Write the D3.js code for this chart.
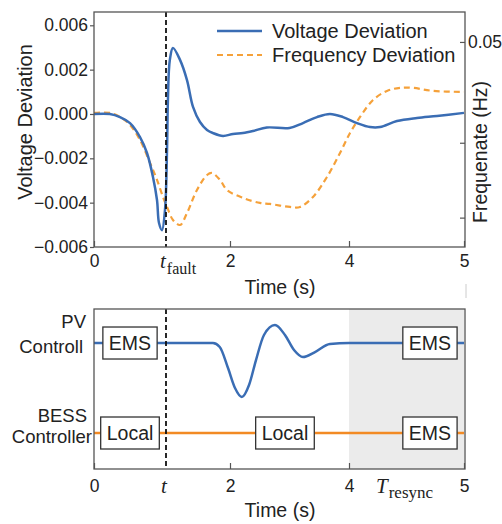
<!DOCTYPE html>
<html>
<head>
<meta charset="utf-8">
<script src="https://cdn.jsdelivr.net/npm/d3@7"></script>
<style>
  body { margin: 0; background: #fff; }
  text { font-family: "Liberation Sans", Arial, sans-serif; fill: #222; }
  .serif { font-family: "Liberation Serif", "DejaVu Serif", serif; }
</style>
</head>
<body>
<div id="chart"></div>
<script>
// Voltage deviation (left axis)
const timeV = [0, 0.22, 0.361, 0.5, 0.639, 0.736, 0.819, 0.875, 0.903, 0.944, 0.986, 1.016, 1.03, 1.06,
  1.109, 1.219, 1.328, 1.422, 1.531, 1.641, 1.734, 1.891, 2.05, 2.218, 2.386, 2.62, 3.0, 3.227,
  3.462, 3.68, 3.9, 4.07, 4.183, 4.27, 4.417, 4.591, 4.765, 5.0];
const voltage = [0, 0, -0.00014, -0.00041, -0.00104, -0.00176, -0.00284, -0.00388, -0.00492, -0.00524,
  -0.00433, -0.00163, 0.00063, 0.00244, 0.00298, 0.00244, 0.00153, 0.00032, -0.00036, -0.00072,
  -0.00086, -0.00099, -0.0009, -0.00086, -0.00077, -0.00061, -0.00063, -0.00041, -0.00014, 0,
  -0.00014, -0.00041, -0.00059, -0.00059, -0.00032, -0.00018, -0.00009, 0.00005];

// Frequency deviation (right axis)
const timeF = [0, 0.22, 0.361, 0.5, 0.639, 0.778, 0.875, 0.958, 1.016, 1.109, 1.219, 1.328, 1.484,
  1.641, 1.719, 1.844, 1.953, 2.218, 2.504, 2.672, 3.008, 3.176, 3.395, 3.63, 3.849, 4.009, 4.096,
  4.209, 4.33, 4.443, 4.557, 4.73, 5.0];
const freq = [0.0007, 0.0007, -0.0021, -0.0076, -0.0181, -0.034, -0.0458, -0.0576, -0.0646, -0.0736,
  -0.0771, -0.0688, -0.0528, -0.0424, -0.041, -0.0458, -0.0528, -0.0583, -0.0618, -0.0625, -0.0646,
  -0.0646, -0.0576, -0.0438, -0.0271, -0.0132, -0.0021, 0.0097, 0.016, 0.0181, 0.0181, 0.016, 0.0153];

// Controller signals (bottom panel)
const timePV = [0, 1, 1.734, 1.84, 1.969, 2.084, 2.2, 2.32, 2.437, 2.571, 2.756, 2.924, 3.076, 3.227,
  3.429, 3.68, 4.0, 5.0];
const pvSignal = [1, 1, 1, 0.956, 0.722, 0.5, 0.4, 0.533, 0.811, 1.089, 1.2, 1.089, 0.922, 0.844,
  0.9, 0.99, 1, 1];
const timeBESS = [0, 5];
const bessSignal = [0, 0];

const pvBoxT = [0.5, 4.704];
const pvBoxLabels = ["EMS", "EMS"];
const bessBoxT = [0.5, 2.924, 4.704];
const bessBoxLabels = ["Local", "Local", "EMS"];

const tFault = 1;
const tResync = [4, 5];

const xTicks = [0, 2, 4, 5];
const xTickLabels = ["0", "2", "4", "5"];
const vTicks = [-0.006, -0.004, -0.002, 0, 0.002, 0.004];
const vTickLabels = ["\u22120.006", "\u22120.004", "\u22120.002", "0.000", "0.002", "0.006"];
const fTicks = [0.05, -0.02, -0.072];
const fTickLabels = ["0.05", "", ""];

const blue = "#3a6db4", orange = "#f5a13a", orange2 = "#f28a24", frame = "#555";

const svg = d3.select("#chart").append("svg")
  .attr("width", 502).attr("height", 524);

// scales (time axis in the picture is not uniform)
const x = d3.scaleLinear().domain([0, 1, 2, 4, 5]).range([94, 166, 230, 349, 464]);
const yV = d3.scaleLinear().domain([-0.006, 0.0046]).range([247, 12]);
const yF = d3.scaleLinear().domain([-0.0924, 0.0708]).range([247, 12]);
const yS = d3.scaleLinear().domain([-0.4, 1.378]).range([469, 309]);

const upper = {t: 12, b: 247}, lower = {t: 309, b: 469};

function styleAxis(g, size) {
  g.select(".domain").remove();
  g.selectAll(".tick line").attr("stroke", frame).attr("stroke-width", 1.2);
  g.selectAll(".tick text").style("font-size", size + "px").attr("fill", "#222");
}

// ---------- top panel ----------
svg.append("g").attr("transform", `translate(0,${upper.b})`)
  .call(d3.axisBottom(x).tickValues(xTicks).tickFormat((d, i) => xTickLabels[i]).tickSize(-6).tickPadding(8))
  .call(g => styleAxis(g, 17.5));

svg.append("g").attr("transform", "translate(94,0)")
  .call(d3.axisLeft(yV).tickValues(vTicks).tickFormat((d, i) => vTickLabels[i]).tickSize(4).tickPadding(2))
  .call(g => styleAxis(g, 17.5));

svg.append("g").attr("transform", "translate(465,0)")
  .call(d3.axisRight(yF).tickValues(fTicks).tickFormat((d, i) => fTickLabels[i]).tickSize(-5).tickPadding(3))
  .call(g => styleAxis(g, 17.5));

const lineV = d3.line().x((d, i) => x(timeV[i])).y(d => yV(d)).curve(d3.curveCatmullRom.alpha(0.5));
const lineF = d3.line().x((d, i) => x(timeF[i])).y(d => yF(d)).curve(d3.curveCatmullRom.alpha(0.5));

svg.append("path").datum(freq).attr("d", lineF)
  .attr("fill", "none").attr("stroke", orange).attr("stroke-width", 2.2).attr("stroke-dasharray", "6,4");
svg.append("path").datum(voltage).attr("d", lineV)
  .attr("fill", "none").attr("stroke", blue).attr("stroke-width", 2.5);

svg.append("line")
  .attr("x1", x(tFault)).attr("x2", x(tFault)).attr("y1", upper.t).attr("y2", upper.b)
  .attr("stroke", "#111").attr("stroke-width", 1.8).attr("stroke-dasharray", "5,3");

svg.append("rect").attr("x", 94).attr("y", upper.t).attr("width", 371).attr("height", upper.b - upper.t)
  .attr("fill", "none").attr("stroke", frame).attr("stroke-width", 1.3);

// legend
const legend = svg.append("g");
legend.append("line").attr("x1", 217).attr("x2", 262).attr("y1", 31).attr("y2", 31)
  .attr("stroke", blue).attr("stroke-width", 2.5);
legend.append("line").attr("x1", 217).attr("x2", 262).attr("y1", 55).attr("y2", 55)
  .attr("stroke", orange).attr("stroke-width", 2.2).attr("stroke-dasharray", "6,4");
legend.append("text").attr("x", 272).attr("y", 38).style("font-size", "20px").text("Voltage Deviation");
legend.append("text").attr("x", 272).attr("y", 62).style("font-size", "20px").text("Frequency Deviation");

// axis titles
svg.append("text").attr("transform", "translate(32,122) rotate(-90)")
  .attr("text-anchor", "middle").style("font-size", "20px").text("Voltage Deviation");
svg.append("text").attr("transform", "translate(487,152) rotate(-90)")
  .attr("text-anchor", "middle").style("font-size", "19.5px").text("Frequenate (Hz)");
svg.append("text").attr("x", 280).attr("y", 294)
  .attr("text-anchor", "middle").style("font-size", "19.5px").text("Time (s)");

const tf = svg.append("text").attr("class", "serif").attr("x", x(tFault) - 6).attr("y", 268);
tf.append("tspan").style("font-style", "italic").style("font-size", "21px").text("t");
tf.append("tspan").attr("dy", 6).attr("dx", 1).style("font-size", "16px").text("fault");

svg.append("line").attr("x1", 466).attr("x2", 466).attr("y1", 284).attr("y2", 298)
  .attr("stroke", "#ccc").attr("stroke-width", 1);

// ---------- bottom panel ----------
svg.append("rect")
  .attr("x", x(tResync[0])).attr("y", lower.t)
  .attr("width", x(tResync[1]) - x(tResync[0])).attr("height", lower.b - lower.t)
  .attr("fill", "#ebebeb");

svg.append("g").attr("transform", `translate(0,${lower.b})`)
  .call(d3.axisBottom(x).tickValues(xTicks).tickFormat((d, i) => xTickLabels[i]).tickSize(-6).tickPadding(11))
  .call(g => styleAxis(g, 17.5));

const lineS = d3.line().curve(d3.curveMonotoneX);
svg.append("path")
  .datum(pvSignal.map((d, i) => [x(timePV[i]), yS(d)]))
  .attr("d", lineS).attr("fill", "none").attr("stroke", blue).attr("stroke-width", 2.5);
svg.append("path")
  .datum(bessSignal.map((d, i) => [x(timeBESS[i]), yS(d)]))
  .attr("d", lineS).attr("fill", "none").attr("stroke", orange2).attr("stroke-width", 2.5);

svg.append("line")
  .attr("x1", x(tFault)).attr("x2", x(tFault)).attr("y1", lower.t).attr("y2", lower.b)
  .attr("stroke", "#111").attr("stroke-width", 1.8).attr("stroke-dasharray", "5,3");

function drawBoxes(ts, labels, level) {
  ts.forEach((t, i) => {
    const g = svg.append("g");
    const txt = g.append("text").attr("x", x(t)).attr("y", yS(level) + 7)
      .attr("text-anchor", "middle").style("font-size", "19.5px").text(labels[i]);
    const w = txt.node().getComputedTextLength() + 12;
    g.insert("rect", "text")
      .attr("x", x(t) - w / 2).attr("y", yS(level) - 16).attr("width", w).attr("height", 32)
      .attr("fill", "#fff").attr("stroke", "#333").attr("stroke-width", 1.3);
  });
}
drawBoxes(pvBoxT, pvBoxLabels, 1);
drawBoxes(bessBoxT, bessBoxLabels, 0);

svg.append("rect").attr("x", 94).attr("y", lower.t).attr("width", 371).attr("height", lower.b - lower.t)
  .attr("fill", "none").attr("stroke", frame).attr("stroke-width", 1.3);

// row labels
[["PV", 86, 328], ["Controll", 83, 353], ["BESS", 87, 422], ["Controller", 92, 443]].forEach(r => {
  svg.append("text").attr("x", r[1]).attr("y", r[2]).attr("text-anchor", "end")
    .style("font-size", "18.5px").text(r[0]);
});

svg.append("text").attr("class", "serif").attr("x", x(tFault) - 5).attr("y", 493)
  .style("font-style", "italic").style("font-size", "21px").text("t");
const tr = svg.append("text").attr("class", "serif").attr("x", 376).attr("y", 493);
tr.append("tspan").style("font-style", "italic").style("font-size", "21px").text("T");
tr.append("tspan").attr("dy", 5).attr("dx", 1).style("font-size", "17px").text("resync");

svg.append("text").attr("x", 280).attr("y", 517)
  .attr("text-anchor", "middle").style("font-size", "19.5px").text("Time (s)");
</script>
</body>
</html>
